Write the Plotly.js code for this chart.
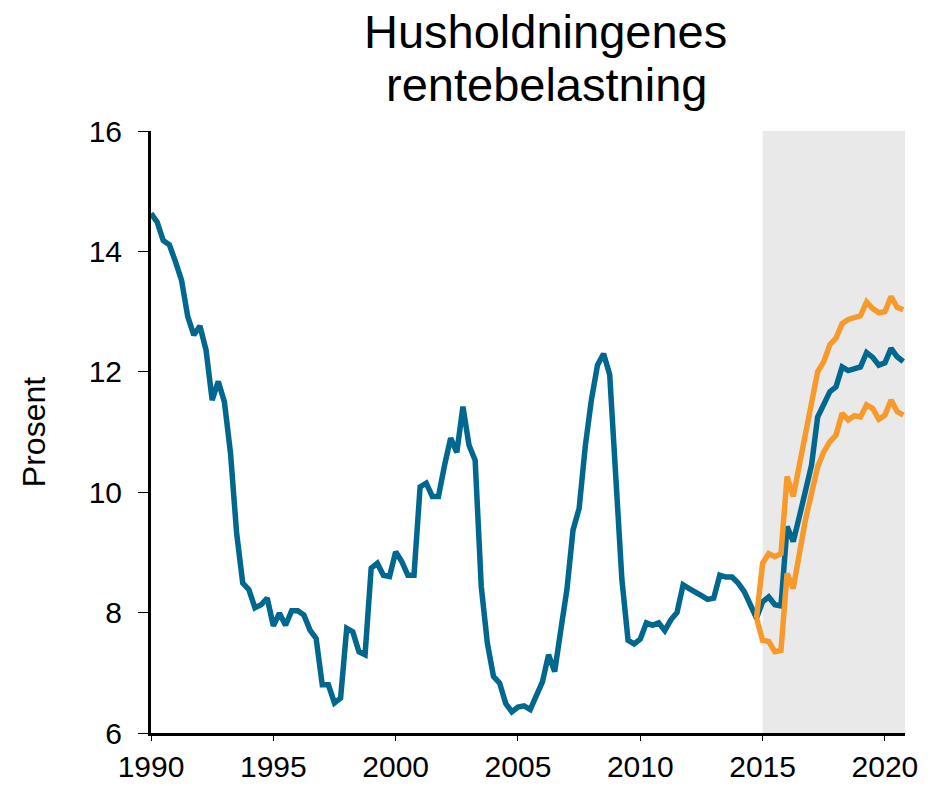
<!DOCTYPE html>
<html>
<head>
<meta charset="utf-8">
<script src="https://cdn.plot.ly/plotly-3.0.1.min.js"></script>
<style>html,body{margin:0;padding:0;background:#fff;}#chart{width:939px;height:786px;}</style>
</head>
<body>
<div id="chart"></div>
<script>
// Quarterly observations, 1990Q1 – 2020Q4
const startYear = 1990;
const rentebelastning = [
  14.63, 14.49, 14.18, 14.11,
  13.83, 13.52, 12.92, 12.61,
  12.76, 12.36, 11.53, 11.84,
  11.50, 10.65, 9.32, 8.49,
  8.38, 8.08, 8.13, 8.24,
  7.78, 7.99, 7.79, 8.03,
  8.03, 7.96, 7.71, 7.57,
  6.80, 6.80, 6.50, 6.58,
  7.74, 7.68, 7.35, 7.30,
  8.74, 8.82, 8.62, 8.60,
  9.01, 8.85, 8.62, 8.62,
  10.09, 10.15, 9.93, 9.93,
  10.45, 10.90, 10.66, 11.42,
  10.78, 10.53, 8.43, 7.49,
  6.94, 6.83, 6.49, 6.35,
  6.43, 6.45, 6.39, 6.60,
  6.85, 7.30, 7.02, 7.71,
  8.38, 9.37, 9.73, 10.76,
  11.53, 12.11, 12.30, 11.95,
  10.31, 8.54, 7.54, 7.48,
  7.56, 7.83, 7.79, 7.83,
  7.70, 7.88, 8.00, 8.46,
  8.40, 8.35, 8.28, 8.22,
  8.24, 8.62, 8.59, 8.59,
  8.49, 8.35, 8.15, 7.91,
  8.18, 8.26, 8.13, 8.11,
  9.43, 9.18, 9.59, 9.98,
  10.45, 11.25, 11.48, 11.67,
  11.75, 12.08, 12.02, 12.04,
  12.08, 12.32, 12.24, 12.11,
  12.15, 12.39, 12.25, 12.17
];
// Band from 2014Q4 – 2020Q4
const bandStartIndex = 99;
const bandUpper = [7.91, 8.82, 8.98, 8.93, 8.98, 10.26, 9.93, 10.45, 10.87, 11.42, 12.00, 12.17, 12.45, 12.56, 12.80, 12.87, 12.91, 12.93, 13.16, 13.05, 12.98, 13.00, 13.25, 13.07, 13.03];
const bandLower = [7.91, 7.54, 7.52, 7.35, 7.37, 8.65, 8.40, 9.04, 9.54, 9.98, 10.42, 10.67, 10.84, 10.95, 11.31, 11.20, 11.27, 11.25, 11.45, 11.39, 11.21, 11.28, 11.53, 11.34, 11.28];
const xTickVals = [1990, 1995, 2000, 2005, 2010, 2015, 2020];
const yTickVals = [6, 8, 10, 12, 14, 16];
const titleLines = ['Husholdningenes', 'rentebelastning'];
const yTitle = 'Prosent';
const shadeStart = 2015;

const quarters = rentebelastning.map((_, i) => startYear + i / 4);
const bandX = quarters.slice(bandStartIndex, bandStartIndex + bandUpper.length);

const blue = '#00688f';
const orange = '#f7992b';
const font = 'Liberation Sans, Arial, sans-serif';
const xMax = 2020.82;

const traces = [
  {x: quarters, y: rentebelastning, type: 'scatter', mode: 'lines', line: {color: blue, width: 5.5}, name: 'Rentebelastning', hoverinfo: 'x+y'},
  {x: bandX, y: bandUpper, type: 'scatter', mode: 'lines', line: {color: orange, width: 5.5}, name: 'Øvre', hoverinfo: 'x+y'},
  {x: bandX, y: bandLower, type: 'scatter', mode: 'lines', line: {color: orange, width: 5.5}, name: 'Nedre', hoverinfo: 'x+y'}
];

const titleFont = {family: font, size: 47, color: '#000'};
const layout = {
  width: 939, height: 786,
  margin: {l: 151, r: 34, t: 131, b: 53},
  paper_bgcolor: '#fff', plot_bgcolor: '#fff',
  showlegend: false,
  font: {family: font, color: '#000'},
  annotations: [
    {text: titleLines[0], xref: 'paper', yref: 'paper', x: 0.523, y: 1.166, xanchor: 'center', yanchor: 'middle', showarrow: false, font: titleFont},
    {text: titleLines[1], xref: 'paper', yref: 'paper', x: 0.524, y: 1.078, xanchor: 'center', yanchor: 'middle', showarrow: false, font: titleFont}
  ],
  xaxis: {
    range: [1990, xMax],
    tickvals: xTickVals, ticktext: xTickVals.map(String),
    ticks: 'outside', ticklen: 5, tickwidth: 1, tickcolor: '#000',
    showline: true, linecolor: '#000', linewidth: 3,
    showgrid: false, zeroline: false,
    tickfont: {family: font, size: 30, color: '#000'}
  },
  yaxis: {
    range: [6, 16],
    tickvals: yTickVals,
    ticks: 'outside', ticklen: 10, tickwidth: 1, tickcolor: '#000',
    ticklabelstandoff: 10,
    showline: true, linecolor: '#000', linewidth: 3,
    showgrid: false, zeroline: false,
    tickfont: {family: font, size: 30, color: '#000'},
    title: {text: yTitle, font: {family: font, size: 32, color: '#000'}, standoff: 34}
  },
  shapes: [{
    type: 'rect', xref: 'x', yref: 'paper',
    x0: shadeStart, x1: xMax, y0: 0, y1: 1,
    fillcolor: '#e9e9e9', line: {width: 0}, layer: 'below'
  }]
};

Plotly.newPlot('chart', traces, layout, {displayModeBar: false, staticPlot: true});
</script>
</body>
</html>
